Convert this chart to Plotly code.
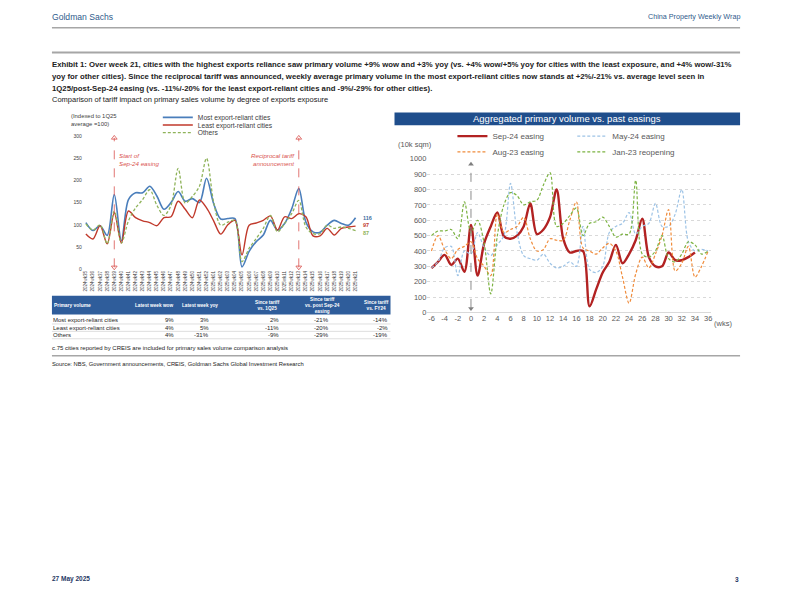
import plotly.graph_objects as go

# The page body has an 8px margin, so the figure is shifted by 8px; positions below are page pixels.
OFF = 8
W, H = 784, 604
def px(x): return (x - OFF) / W
def py(y): return 1 - (y - OFF) / H

ARIAL = "Liberation Sans, Arial, sans-serif"

# ---------------- left chart data ----------------
weeks = ["2024wk35", "2024wk36", "2024wk37", "2024wk38", "2024wk39", "2024wk40", "2024wk41",
         "2024wk42", "2024wk43", "2024wk44", "2024wk45", "2024wk46", "2024wk47", "2024wk48",
         "2024wk49", "2024wk50", "2024wk51", "2024wk52", "2025wk01", "2025wk02", "2025wk03",
         "2025wk04", "2025wk05", "2025wk06", "2025wk07", "2025wk08", "2025wk09", "2025wk10",
         "2025wk11", "2025wk12", "2025wk13", "2025wk14", "2025wk15", "2025wk16", "2025wk17",
         "2025wk18", "2025wk19", "2025wk20", "2025wk21"]
most_export = [105, 87, 98, 76, 168, 64, 157, 172, 172, 187, 165, 135, 150, 175, 153, 159, 150, 205, 148, 113,
               114, 114, 5, 40, 62, 77, 110, 88, 103, 136, 182, 106, 84, 83, 99, 110, 103, 99, 116]
least_export = [79, 68, 98, 57, 127, 59, 131, 116, 109, 105, 98, 116, 118, 153, 135, 116, 156, 138, 109, 79,
                100, 110, 32, 99, 104, 110, 120, 88, 118, 114, 125, 118, 75, 75, 92, 77, 92, 95, 97]
others = [102, 88, 100, 57, 131, 59, 109, 138, 157, 179, 144, 121, 144, 227, 149, 164, 187, 250, 151, 99,
          106, 110, 17, 47, 69, 92, 121, 84, 103, 125, 155, 95, 80, 80, 99, 92, 95, 92, 87]
easing_week = "2024wk39"
tariff_week = "2025wk13"

# ---------------- table data ----------------
row_names = ["Most export-reliant cities", "Least export-reliant cities", "Others"]
latest_wow = ["9%", "4%", "4%"]
latest_yoy = ["3%", "5%", "-31%"]
since_vs_1q25 = ["2%", "-11%", "-9%"]
since_vs_sep24 = ["-21%", "-20%", "-29%"]
since_vs_fy24 = ["-14%", "-2%", "-19%"]

# ---------------- right chart data ----------------
rel_weeks = [-6, -5, -4, -3, -2, -1, 0, 1, 2, 3, 4, 5, 6, 7, 8, 9, 10, 11, 12, 13, 14, 15, 16, 17, 18,
             19, 20, 21, 22, 23, 24, 25, 26, 27, 28, 29, 30, 31, 32, 33, 34, 35, 36]
sep24 = [288, 330, 375, 310, 350, 265, 570, 240, 450, 560, 650, 495, 480, 500, 560, 710, 510, 540, 620,
         800, 480, 390, 400, 400, 40, 150, 260, 330, 440, 320, 380, 470, 610, 360, 300, 300, 390, 340,
         340, 360, 390]
may24 = [290, 330, 420, 430, 240, 400, 380, 520, 420, 370, 440, 500, 840, 520, 370, 350, 340, 380, 320,
         290, 300, 330, 300, 560, 280, 260, 300, 520, 560, 580, 650, 510, 560, 580, 710, 560, 560, 640,
         800, 460, 400, 410, 400]
aug23 = [400, 500, 410, 350, 410, 430, 460, 350, 300, 240, 640, 520, 540, 560, 620, 480, 400, 410, 480,
         470, 470, 600, 720, 420, 400, 380, 420, 450, 400, 230, 60, 250, 360, 290, 380, 500, 670, 270,
         320, 430, 230, 300, 400]
jan23 = [500, 530, 530, 540, 480, 720, 520, 600, 450, 120, 500, 700, 780, 760, 700, 720, 730, 830, 910,
         560, 580, 630, 680, 500, 580, 590, 620, 560, 490, 510, 510, 860, 380, 360, 400, 500, 350, 330,
         380, 460, 440, 380, 400]
right_xticks = [-6, -4, -2, 0, 2, 4, 6, 8, 10, 12, 14, 16, 18, 20, 22, 24, 26, 28, 30, 32, 34, 36]
right_xticktext = ["-6", "-4", "-2", "0", "2", "4", "6", "8", "10", "12", "14", "16", "18", "20", "22",
                   "24", "26", "28", "30", "32", "34", "36"]

BLUE = "#4a7ebb"
RED_L = "#c0392b"
GREEN = "#8fb35a"
EVENT_RED = "#d9534f"

fig = go.Figure()

# left chart traces (each in its own one-item legend so rows can sit close together)
fig.add_trace(go.Scatter(x=weeks, y=most_export, name="Most export-reliant cities", mode="lines",
                         line=dict(color=BLUE, width=1.6, shape="spline", smoothing=0.9),
                         xaxis="x", yaxis="y", legend="legend"))
fig.add_trace(go.Scatter(x=weeks, y=least_export, name="Least export-reliant cities", mode="lines",
                         line=dict(color=RED_L, width=1.4, shape="spline", smoothing=0.9),
                         xaxis="x", yaxis="y", legend="legend2"))
fig.add_trace(go.Scatter(x=weeks, y=others, name="Others", mode="lines",
                         line=dict(color=GREEN, width=1.3, dash="3px,2px", shape="spline", smoothing=0.9),
                         xaxis="x", yaxis="y", legend="legend3"))
for wk in (easing_week, tariff_week):
    fig.add_trace(go.Scatter(x=[wk, wk], y=[296, 4], mode="markers", showlegend=False,
                             marker=dict(symbol=["triangle-up-open", "triangle-down-open"], size=5,
                                         color=EVENT_RED, line=dict(width=0.8, color=EVENT_RED)),
                             xaxis="x", yaxis="y", cliponaxis=False, hoverinfo="skip"))

# right chart traces
fig.add_trace(go.Scatter(x=rel_weeks[:len(sep24)], y=sep24, name="Sep-24 easing", mode="lines",
                         line=dict(color="#b22222", width=2.4, shape="spline", smoothing=0.9),
                         xaxis="x2", yaxis="y2", legend="legend4"))
fig.add_trace(go.Scatter(x=rel_weeks, y=may24, name="May-24 easing", mode="lines",
                         line=dict(color="#9dc3e6", width=1.2, dash="3px,2px", shape="spline", smoothing=0.9),
                         xaxis="x2", yaxis="y2", legend="legend5"))
fig.add_trace(go.Scatter(x=rel_weeks, y=aug23, name="Aug-23 easing", mode="lines",
                         line=dict(color="#f08c3c", width=1.2, dash="3px,2px", shape="spline", smoothing=0.9),
                         xaxis="x2", yaxis="y2", legend="legend6"))
fig.add_trace(go.Scatter(x=rel_weeks, y=jan23, name="Jan-23 reopening", mode="lines",
                         line=dict(color="#7cb342", width=1.2, dash="3px,2px", shape="spline", smoothing=0.9),
                         xaxis="x2", yaxis="y2", legend="legend7"))
fig.add_trace(go.Scatter(x=[0, 0], y=[965, 25], mode="markers", showlegend=False,
                         marker=dict(symbol=["triangle-up", "triangle-down"], size=5, color="#7f7f7f"),
                         xaxis="x2", yaxis="y2", cliponaxis=False, hoverinfo="skip"))

shapes = []
annotations = []

def line(x0, y0, x1, y1, color="#a6a6a6", width=1.5):
    shapes.append(dict(type="line", xref="paper", yref="paper", x0=px(x0), y0=py(y0), x1=px(x1), y1=py(y1),
                       line=dict(color=color, width=width)))

def text(x, y, s, size=7, color="#222222", xanchor="left", bold=False, align="left", family=ARIAL):
    if bold:
        s = "<b>" + s + "</b>"
    annotations.append(dict(x=px(x), y=py(y), xref="paper", yref="paper", text=s, showarrow=False,
                            xanchor=xanchor, yanchor="middle", align=align, borderpad=0,
                            font=dict(size=size, color=color, family=family)))

# page header
text(51, 13, "Goldman Sachs", size=8.6, color="#2f5b8c")
text(742, 13, "China Property Weekly Wrap", size=7.2, color="#2f5b8c", xanchor="right")
line(52, 24, 741, 24, width=1.5)
line(52, 49, 741, 49, width=2)
text(51, 61, "Exhibit 1: Over week 21, cities with the highest exports reliance saw primary volume +9% wow and +3% yoy "
     "(vs. +4% wow/+5% yoy for cities with the least exposure, and +4% wow/-31%", size=7.75, bold=True)
text(51, 73.5, "yoy for other cities). Since the reciprocal tariff was announced, weekly average primary volume in the "
     "most export-reliant cities now stands at +2%/-21% vs. average level seen in", size=7.75, bold=True)
text(51, 85.5, "1Q25/post-Sep-24 easing (vs. -11%/-20% for the least export-reliant cities and -9%/-29% for other cities).",
     size=7.75, bold=True)
text(51, 97, "Comparison of tariff impact on primary sales volume by degree of exports exposure", size=7.5)

# left chart annotations
text(70, 118, "(Indexed to 1Q25<br>average =100)", size=5.9, color="#404040")
annotations.append(dict(x=easing_week, y=248, xref="x", yref="y", text="<i>Start of<br>Sep-24 easing</i>",
                        showarrow=False, xanchor="left", yanchor="middle", align="left", xshift=3,
                        font=dict(size=6.2, color=EVENT_RED, family=ARIAL)))
annotations.append(dict(x=tariff_week, y=248, xref="x", yref="y",
                        text="<i>Reciprocal tariff<br>announcement</i>",
                        showarrow=False, xanchor="right", yanchor="middle", align="right", xshift=-2,
                        font=dict(size=6.2, color=EVENT_RED, family=ARIAL)))
for val, col, ys in ((most_export[-1], "#3f6f9f", 0), (least_export[-1], RED_L, 1), (others[-1], GREEN, -2)):
    annotations.append(dict(x=weeks[-1], y=val, xref="x", yref="y", text="<b>%d</b>" % val, showarrow=False,
                            xanchor="left", yanchor="middle", xshift=5, yshift=ys,
                            font=dict(size=5.5, color=col, family=ARIAL)))
for wk in (easing_week, tariff_week):
    shapes.append(dict(type="line", xref="x", yref="y", x0=wk, x1=wk, y0=4, y1=296,
                       line=dict(color=EVENT_RED, width=0.8, dash="dash")))

# table
shapes.append(dict(type="rect", xref="paper", yref="paper", x0=px(52), x1=px(391), y0=py(315), y1=py(296),
                   fillcolor="#2f5d9b", line=dict(width=0)))
text(53, 305.5, "Primary volume", size=4.9, color="white", bold=True)
header_rights = [174, 219, 281, 341, 390]
value_rights = [175, 210, 280, 330, 389]
headers = ["Latest week wow", "Latest week yoy", "Since tariff<br>vs. 1Q25",
           "Since tariff<br>vs. post Sep-24<br>easing", "Since tariff<br>vs. FY24"]
for r, h in zip(header_rights, headers):
    text(r, 305.5, h, size=4.7, color="white", bold=True, xanchor="right", align="center")
row_ys = [321, 328.5, 336]
columns = [latest_wow, latest_yoy, since_vs_1q25, since_vs_sep24, since_vs_fy24]
for i, (name, ry) in enumerate(zip(row_names, row_ys)):
    text(52, ry, name, size=6.0, color="#262626")
    for colvals, r in zip(columns, value_rights):
        text(r, ry, colvals[i], size=6.0, color="#262626", xanchor="right")
    line(52, ry + 3.7, 391, ry + 3.7, color="#c9c9c9", width=0.6)
text(51, 349, "c.75 cities reported by CREIS are included for primary sales volume comparison analysis", size=6.0)
line(52, 357, 741, 357, width=1.5)
text(51, 365, "Source: NBS, Government announcements, CREIS, Goldman Sachs Global Investment Research", size=5.8)

# right chart title bar and labels
shapes.append(dict(type="rect", xref="paper", yref="paper", x0=px(395), x1=px(741), y0=py(123), y1=py(110),
                   fillcolor="#1f4e8c", line=dict(width=0)))
text(568, 116.5, "Aggregated primary volume vs. past easings", size=9.5, color="white", xanchor="center")
text(397, 142, "(10k sqm)", size=7.5, color="#595959")
text(714, 324, "(wks)", size=7.5, color="#595959")
shapes.append(dict(type="line", xref="x2", yref="y2", x0=0, x1=0, y0=30, y1=960,
                   line=dict(color="#8c8c8c", width=1, dash="dash")))

# footer
text(51, 584, "27 May 2025", size=6.5, color="#1f3864", bold=True)
text(741, 584, "3", size=6.5, color="#1f3864", bold=True, xanchor="right")

def leg(x, y, size, color):
    return dict(x=px(x), y=py(y), xanchor="left", yanchor="middle", bgcolor="rgba(0,0,0,0)",
                font=dict(size=size, color=color, family=ARIAL), itemwidth=30, borderwidth=0)

fig.update_layout(
    width=W, height=H, margin=dict(l=0, r=0, t=0, b=0),
    paper_bgcolor="white", plot_bgcolor="rgba(0,0,0,0)",
    font=dict(family=ARIAL, color="#595959"),
    shapes=shapes, annotations=annotations,
    xaxis=dict(domain=[px(83), px(372)], anchor="y", type="category", range=[-0.42, 40.25],
               tickangle=-90, tickfont=dict(size=4.5, color="#404040"), showgrid=False, showline=False,
               zeroline=False, ticks=""),
    yaxis=dict(domain=[py(269), py(134)], anchor="x", range=[0, 300], dtick=50,
               tickfont=dict(size=5, color="#404040"), showgrid=False, zeroline=False, showline=False),
    xaxis2=dict(domain=[px(428), px(712)], anchor="y2", range=[-6.607, 36.45], tickmode="array",
                tickvals=right_xticks, ticktext=right_xticktext, tickfont=dict(size=7.5, color="#595959"),
                showgrid=False, showline=False, zeroline=False, ticks=""),
    yaxis2=dict(domain=[py(313), py(157)], anchor="x2", range=[0, 1000], dtick=100,
                tickfont=dict(size=7.5, color="#595959"), showgrid=True, gridcolor="#d9d9d9",
                griddash="3px,3px", gridwidth=0.8, zeroline=True, zerolinecolor="#d9d9d9", zerolinewidth=1),
    legend=leg(158, 115, 6.7, "#404040"),
    legend2=leg(158, 122.7, 6.7, "#404040"),
    legend3=leg(158, 130.4, 6.7, "#404040"),
    legend4=leg(453, 134, 8, "#595959"),
    legend5=leg(573, 134, 8, "#595959"),
    legend6=leg(453, 150, 8, "#595959"),
    legend7=leg(573, 150, 8, "#595959"),
)

fig.write_html("out.html")
